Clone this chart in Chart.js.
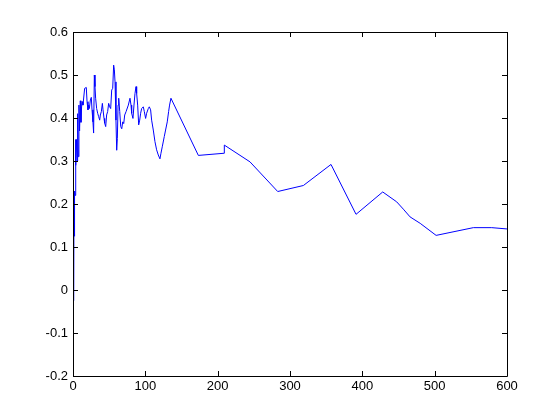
<!DOCTYPE html>
<html lang="en">
  <head>
    <meta charset="UTF-8" />
    <title>Line plot</title>
    <style>
      body { margin: 0; background: #fff; }
      #wrap { width: 560px; height: 420px; }
    </style>
  </head>
  <body>
    <div id="wrap"><canvas id="myChart"></canvas></div>

    <script src="https://cdn.jsdelivr.net/npm/chart.js@4/dist/chart.umd.min.js"></script>
    <script>
      const xValues = [
        1.0, 1.4, 1.9, 2.4, 2.9, 3.4, 4.1, 4.9, 5.8, 6.4, 7.3, 8.2, 9.1, 10.1, 11, 11.9, 12.9, 13.8,
        16.1, 18.4, 19.4, 20.7, 21.7, 22.6, 24, 25.3, 26.3, 27.6, 28.5, 29.5, 30.4, 31.3, 32.7, 34.1,
        35.5, 36.9, 37.8, 39.2, 40.6, 41.5, 42.9, 43.8, 45.2, 46.5, 47.9, 49.3, 50.7, 52.1, 53.5, 54.9,
        56.2, 57.2, 58.1, 59.4, 60.4, 61.3, 62.3, 63.2, 64.6, 66, 67.4, 68.7, 70.1, 71.5, 73.4, 76.5,
        78.8, 80.2, 81.1, 82.9, 84.3, 85.7, 87.1, 88, 89.4, 90.8, 92.2, 93.5, 94.9, 97.2, 98.6, 100.4,
        101.8, 104.1, 105.5, 107.3, 108.7, 111, 113.3, 115.6, 117.9, 120.2, 121.6, 123.4, 126.2, 128,
        130.3, 132.2, 133.5, 135.4, 173.3, 208.8, 209.2, 244.7, 283, 318.5, 356.7, 391.3, 428.2, 447.5,
        456.7, 466, 480, 502, 553.5, 578.9, 600
      ];
      const yValues = [
        -0.025, 0.225, 0.125, 0.23, 0.22, 0.35, 0.29, 0.35, 0.3, 0.41, 0.31, 0.43, 0.37, 0.44, 0.39, 0.426, 0.438, 0.43,
        0.469, 0.471, 0.438, 0.419, 0.43, 0.422, 0.442, 0.448, 0.419, 0.391, 0.365, 0.5, 0.473, 0.446, 0.422, 0.411,
        0.403, 0.395, 0.407, 0.415, 0.434, 0.419, 0.399, 0.388, 0.38, 0.407, 0.415, 0.434, 0.426, 0.422, 0.465, 0.469,
        0.523, 0.512, 0.484, 0.395, 0.325, 0.352, 0.43, 0.446, 0.415, 0.38, 0.375, 0.391, 0.387, 0.407, 0.415, 0.43,
        0.446, 0.43, 0.411, 0.399, 0.43, 0.457, 0.473, 0.457, 0.43, 0.384, 0.395, 0.411, 0.422, 0.426, 0.415, 0.399,
        0.411, 0.422, 0.426, 0.419, 0.395, 0.372, 0.345, 0.326, 0.314, 0.305, 0.318, 0.333, 0.357, 0.372,
        0.391, 0.415, 0.43, 0.446, 0.313, 0.318, 0.337, 0.298, 0.229, 0.243, 0.292, 0.176, 0.228, 0.205,
        0.188, 0.17, 0.155, 0.127, 0.145, 0.145, 0.142
      ];
      const xTickLabels = ["0", "100", "200", "300", "400", "500", "600"];
      const yTickLabels = ["-0.2", "-0.1", "0", "0.1", "0.2", "0.3", "0.4", "0.5", "0.6"];

      const points = xValues.map((x, i) => ({ x: x, y: yValues[i] }));

      // matlab style box with inward ticks on all four sides
      const boxPlugin = {
        id: "box",
        afterDraw(chart) {
          const ctx = chart.ctx;
          const a = chart.chartArea;
          const xs = chart.scales.x;
          const ys = chart.scales.y;
          const len = 5;
          ctx.save();
          ctx.strokeStyle = "#000";
          ctx.lineWidth = 1;
          ctx.beginPath();
          ctx.rect(Math.round(a.left) + 0.5, Math.round(a.top) + 0.5,
            Math.round(a.right - a.left), Math.round(a.bottom - a.top));
          xs.ticks.forEach(t => {
            const px = Math.round(xs.getPixelForValue(t.value)) + 0.5;
            ctx.moveTo(px, a.bottom);
            ctx.lineTo(px, a.bottom - len);
            ctx.moveTo(px, a.top);
            ctx.lineTo(px, a.top + len);
          });
          ys.ticks.forEach(t => {
            const py = Math.round(ys.getPixelForValue(t.value)) + 0.5;
            ctx.moveTo(a.left, py);
            ctx.lineTo(a.left + len, py);
            ctx.moveTo(a.right, py);
            ctx.lineTo(a.right - len, py);
          });
          ctx.stroke();
          ctx.restore();
        }
      };

      const tickFont = { family: "'Liberation Sans', Arial, sans-serif", size: 13 };

      const ctx = document.getElementById("myChart").getContext("2d");
      const chart = new Chart(ctx, {
        type: "line",
        data: {
          datasets: [
            {
              data: points,
              borderColor: "rgb(0, 0, 255)",
              borderWidth: 1,
              pointRadius: 0,
              fill: false,
              tension: 0
            }
          ]
        },
        options: {
          responsive: true,
          maintainAspectRatio: false,
          animation: false,
          layout: { padding: { top: 32, right: 53, left: 0, bottom: 0 } },
          plugins: { legend: { display: false }, tooltip: { enabled: false } },
          scales: {
            x: {
              type: "linear",
              min: 0,
              max: 600,
              grid: { display: false, drawTicks: false },
              border: { display: false },
              ticks: {
                stepSize: 100,
                padding: 3,
                color: "#000",
                font: tickFont,
                maxRotation: 0,
                callback: (v, i) => xTickLabels[i]
              },
              afterFit: scale => { scale.height = 44; }
            },
            y: {
              min: -0.2,
              max: 0.6,
              grid: { display: false, drawTicks: false },
              border: { display: false },
              ticks: {
                stepSize: 0.1,
                padding: 5,
                color: "#000",
                font: tickFont,
                callback: (v, i) => yTickLabels[i]
              },
              afterFit: scale => { scale.width = 73; }
            }
          }
        },
        plugins: [boxPlugin]
      });
    </script>
  </body>
</html>
